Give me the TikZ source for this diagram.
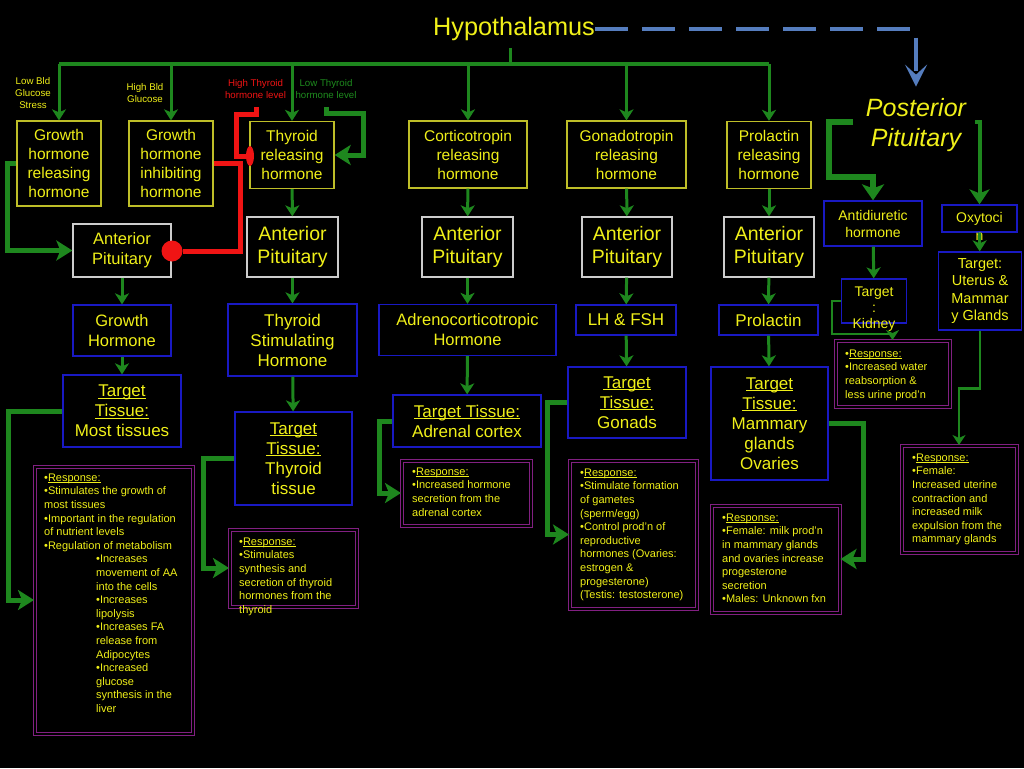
\documentclass[tikz,border=0pt]{standalone}
\usepackage{fontspec}
\setmainfont{Liberation Sans}
\usetikzlibrary{arrows.meta,calc,shapes.geometric}
\definecolor{txt}{RGB}{240,240,25}
\definecolor{gline}{RGB}{30,135,30}
\definecolor{ltgreen}{RGB}{30,140,30}
\definecolor{ybord}{RGB}{190,190,40}
\definecolor{wbord}{RGB}{205,205,205}
\definecolor{bbord}{RGB}{25,25,195}
\definecolor{pbord}{RGB}{130,32,130}
\definecolor{hred}{RGB}{240,20,20}
\definecolor{dblue}{RGB}{85,125,190}
\newcommand\myfs[2]{\fontsize{#1}{#2}\selectfont}
\newsavebox\myulbox
\newcommand\myul[1]{\sbox\myulbox{#1}\rlap{\rule[-0.13em]{\wd\myulbox}{0.065em}}\usebox\myulbox}
\begin{document}
\begin{tikzpicture}[x=1pt,y=-1pt,
  every node/.style={text=txt, inner sep=0pt},
  ybox/.style={draw=ybord, line width=1.3pt, align=center, font=\myfs{15.5}{19}},
  wbox/.style={draw=wbord, line width=1.3pt, align=center, font=\myfs{19.5}{23}},
  bbox/.style={draw=bbord, line width=1.3pt, align=center, font=\myfs{17}{20}},
  rbox/.style={draw=pbord, line width=1pt, double=black, double distance=2pt},
  rtext/.style={anchor=north west, align=left, font=\myfs{11}{13.6}},
  lbl/.style={align=center, font=\myfs{9.7}{12}},
  garr/.style={draw=gline, line width=3pt, -{Stealth[length=11pt,width=14pt,inset=3pt]}},
  gthick/.style={draw=gline, line width=5pt, -{Stealth[length=16pt,width=20pt,inset=4pt]}},
  gthin/.style={draw=gline, line width=2.5pt, -{Stealth[length=10pt,width=13pt,inset=3pt]}},
  redl/.style={draw=hred, line width=5pt}
]
\fill[black] (0,0) rectangle (1024,768);
\useasboundingbox (0,0) rectangle (1024,768);

% title
\node[anchor=base, font=\myfs{25.3}{29}] (hyp) at (514,36) {Hypothalamus};

% small labels
\node[lbl] (lowbld) at (33,93) {Low Bld\\Glucose\\Stress};
\node[lbl] (hibld) at (145,93) {High Bld\\Glucose};
\node[lbl, text=hred] (hithy) at (255.5,89) {High Thyroid\\hormone level};
\node[lbl, text=ltgreen] (lothy) at (326,89) {Low Thyroid\\hormone level};

% row 1
\node[ybox, minimum width=84pt, minimum height=85pt] (ghrh) at (59,163.5) {Growth\\hormone\\releasing\\hormone};
\node[ybox, minimum width=84pt, minimum height=85pt] (ghih) at (171,163.5) {Growth\\hormone\\inhibiting\\hormone};
\node[ybox, minimum width=84pt, minimum height=67pt] (trh) at (292,155) {Thyroid\\releasing\\hormone};
\node[ybox, minimum width=118pt, minimum height=67pt] (crh) at (468,154.5) {Corticotropin\\releasing\\hormone};
\node[ybox, minimum width=119pt, minimum height=67pt] (gnrh) at (626.5,154.5) {Gonadotropin\\releasing\\hormone};
\node[ybox, minimum width=84pt, minimum height=67pt] (prh) at (769,155) {Prolactin\\releasing\\hormone};

% row 2
\node[wbox, font=\myfs{16.5}{20}, minimum width=98pt, minimum height=53pt] (ap1) at (122,250.5) {Anterior\\Pituitary};
\node[wbox, minimum width=91pt, minimum height=60pt] (ap2) at (292.5,247) {Anterior\\Pituitary};
\node[wbox, minimum width=91pt, minimum height=60pt] (ap3) at (467.5,247) {Anterior\\Pituitary};
\node[wbox, minimum width=90pt, minimum height=60pt] (ap4) at (627,247) {Anterior\\Pituitary};
\node[wbox, minimum width=90pt, minimum height=60pt] (ap5) at (769,247) {Anterior\\Pituitary};

% row 3
\node[bbox, font=\myfs{16.5}{20}, minimum width=98pt, minimum height=51pt] (gh) at (122,330.5) {Growth\\Hormone};
\node[bbox, minimum width=129pt, minimum height=72pt] (tsh) at (292.5,340) {Thyroid\\Stimulating\\Hormone};
\node[bbox, font=\myfs{16.5}{20}, minimum width=177pt, minimum height=51pt] (acth) at (467.5,330) {Adrenocorticotropic\\Hormone};
\node[bbox, minimum width=100pt, minimum height=30pt] (lh) at (626,320) {LH \& FSH};
\node[bbox, minimum width=99pt, minimum height=30pt] (prl) at (768.5,320) {Prolactin};

% row 4
\node[bbox, minimum width=118pt, minimum height=72pt] (tt1) at (122,411) {\myul{Target}\\\myul{Tissue:}\\Most tissues};
\node[bbox, minimum width=117pt, minimum height=93pt] (tt2) at (293.5,458.5) {\myul{Target}\\\myul{Tissue:}\\Thyroid\\tissue};
\node[bbox, minimum width=148pt, minimum height=52pt] (tt3) at (467,421) {\myul{Target Tissue:}\\Adrenal cortex};
\node[bbox, minimum width=118pt, minimum height=71pt] (tt4) at (627,402.5) {\myul{Target}\\\myul{Tissue:}\\Gonads};
\node[bbox, minimum width=117pt, minimum height=113pt] (tt5) at (769.5,423.5) {\myul{Target}\\\myul{Tissue:}\\Mammary\\glands\\Ovaries};

% posterior side
\node[align=center, font=\myfs{25}{30}\itshape] (post) at (916,125.5) {Posterior\\Pituitary};
\node[bbox, font=\myfs{14}{17}, minimum width=98pt, minimum height=45pt] (adh) at (873,223.5) {Antidiuretic\\hormone};
\node[bbox, font=\myfs{14}{17}, minimum width=75pt, minimum height=27pt] (oxy) at (979.5,218.5) {Oxytoci};
\node[font=\myfs{14}{17}] (oxyn) at (979.5,237) {n};
\node[bbox, minimum width=65pt, minimum height=44pt] (kid) at (874,301) {};
\node[align=center, font=\myfs{14}{16}] (kidt) at (874,309) {Target\\:\\Kidney};
\node[bbox, font=\myfs{14.5}{17.5}, minimum width=83pt, minimum height=78pt] (ut) at (980,291) {Target:\\Uterus \&\\Mammar\\y Glands};

% response boxes
\node[rbox, minimum width=158pt, minimum height=267pt] (r1) at (113.5,600) {};
\node[rbox, minimum width=127pt, minimum height=77pt] (r2) at (293,568) {};
\node[rbox, minimum width=129pt, minimum height=65pt] (r3) at (466,493) {};
\node[rbox, minimum width=127pt, minimum height=148pt] (r4) at (633,534.5) {};
\node[rbox, minimum width=128pt, minimum height=107pt] (r5) at (776,559) {};
\node[rbox, minimum width=114pt, minimum height=66pt] (r6) at (892.5,373.5) {};
\node[rbox, minimum width=115pt, minimum height=107pt] (r7) at (959,499) {};

\node[rtext] (r1t) at (44,473.5) {•\myul{Response:}\\•Stimulates the growth of\\most tissues\\•Important in the regulation\\of nutrient levels\\•Regulation of metabolism\\
\hspace*{52pt}•Increases\\\hspace*{52pt}movement of AA\\\hspace*{52pt}into the cells\\\hspace*{52pt}•Increases\\\hspace*{52pt}lipolysis\\\hspace*{52pt}•Increases FA\\\hspace*{52pt}release from\\\hspace*{52pt}Adipocytes\\\hspace*{52pt}•Increased\\\hspace*{52pt}glucose\\\hspace*{52pt}synthesis in the\\\hspace*{52pt}liver};
\node[rtext] (r2t) at (239,537.5) {•\myul{Response:}\\•Stimulates\\synthesis and\\secretion of thyroid\\hormones from the\\thyroid};
\node[rtext] (r3t) at (412,467.5) {•\myul{Response:}\\•Increased hormone\\secretion from the\\adrenal cortex};
\node[rtext] (r4t) at (580,468.5) {•\myul{Response:}\\•Stimulate formation\\of gametes\\(sperm/egg)\\•Control prod'n of\\reproductive\\hormones (Ovaries:\\estrogen \&\\progesterone)\\(Testis: testosterone)};
\node[rtext] (r5t) at (722,513.5) {•\myul{Response:}\\•Female: milk prod'n\\in mammary glands\\and ovaries increase\\progesterone\\secretion\\•Males: Unknown fxn};
\node[rtext] (r6t) at (845,349.5) {•\myul{Response:}\\•Increased water\\reabsorption \&\\less urine prod'n};
\node[rtext] (r7t) at (912,453.5) {•\myul{Response:}\\•Female:\\Increased uterine\\contraction and\\increased milk\\expulsion from the\\mammary glands};

% inhibition markers
\node[circle, fill=hred, minimum size=21pt] (inh1) at (172,251) {};
\node[ellipse, fill=hred, minimum width=8pt, minimum height=20pt] (inh2) at (250,156) {};

% hypothalamus tree
\coordinate (hub) at (510,64);
\draw[gline, line width=3.5pt] (ghrh.north |- hub) -- (prh.north |- hub);
\draw[gline, line width=3pt] ([yshift=-7pt]hyp.south -| hub) -- (hub);
\foreach \n in {ghrh,ghih,trh,crh,gnrh,prh}
  \draw[garr] (\n.north |- hub) -- (\n.north);

% column arrows
\draw[garr] (ap1) -- (gh);
\draw[garr] (gh) -- (tt1);
\draw[garr] (trh) -- (ap2);
\draw[garr] (ap2) -- (tsh);
\draw[garr] (tsh) -- (tt2);
\draw[garr] (crh) -- (ap3);
\draw[garr] (ap3) -- (acth);
\draw[garr] (acth) -- (tt3);
\draw[garr] (gnrh) -- (ap4);
\draw[garr] (ap4) -- (lh);
\draw[garr] (lh) -- (tt4);
\draw[garr] (prh) -- (ap5);
\draw[garr] (ap5) -- (prl);
\draw[garr] (prl) -- (tt5);
\draw[garr] (adh) -- (kid);
\draw[garr] (oxy) -- (ut);

% side loops
\draw[gthick] (ghrh.west) -- ++(-9,0) |- (ap1.west);
\draw[redl] (ghih.east) -- ++(27,0) |- (inh1);
\coordinate (hts) at (256,107);
\draw[redl] (hts) -- ++(0,7) -- ++(-20,0) |- (inh2);
\coordinate (lts) at (326,107);
\draw[gthick] (lts) -- ++(0,6) -- ++(37,0) |- (trh.east);

\draw[gthick] (tt1.west) -- ++(-54,0) |- (r1.west);
\draw[gthick] (tt2.west) -- ++(-31,0) |- (r2.west);
\draw[gthick] (tt3.west) -- ++(-13,0) |- (r3.west);
\draw[gthick] (tt4.west) -- ++(-20,0) |- (r4.west);
\draw[gthick] (tt5.east) -- ++(35,0) |- (r5.east);
\draw[gthin] (kid.west) -- ++(-9,0) |- ($(r6.north)+(0,-6)$) -- (r6.north);
\draw[gthin] (ut.south) -- ++(0,58) -| (r7.north);

% posterior pituitary
\draw[dblue, line width=4pt, dash pattern=on 33pt off 14pt, -{Stealth[length=22pt,width=22pt,inset=10pt]}] (hyp.east) -| ([yshift=12pt]post.north);
\coordinate (pl) at (853,122);
\draw[draw=gline, line width=6pt, -{Stealth[length=16pt,width=22pt,inset=4pt]}] (pl) -- ++(-24,0) |- ($(adh.north)+(0,-23)$) -- (adh.north);
\coordinate (pr) at (975,122);
\draw[draw=gline, line width=4pt, -{Stealth[length=15pt,width=20pt,inset=4pt]}] (pr) -| (oxy.north);
\end{tikzpicture}
\end{document}
